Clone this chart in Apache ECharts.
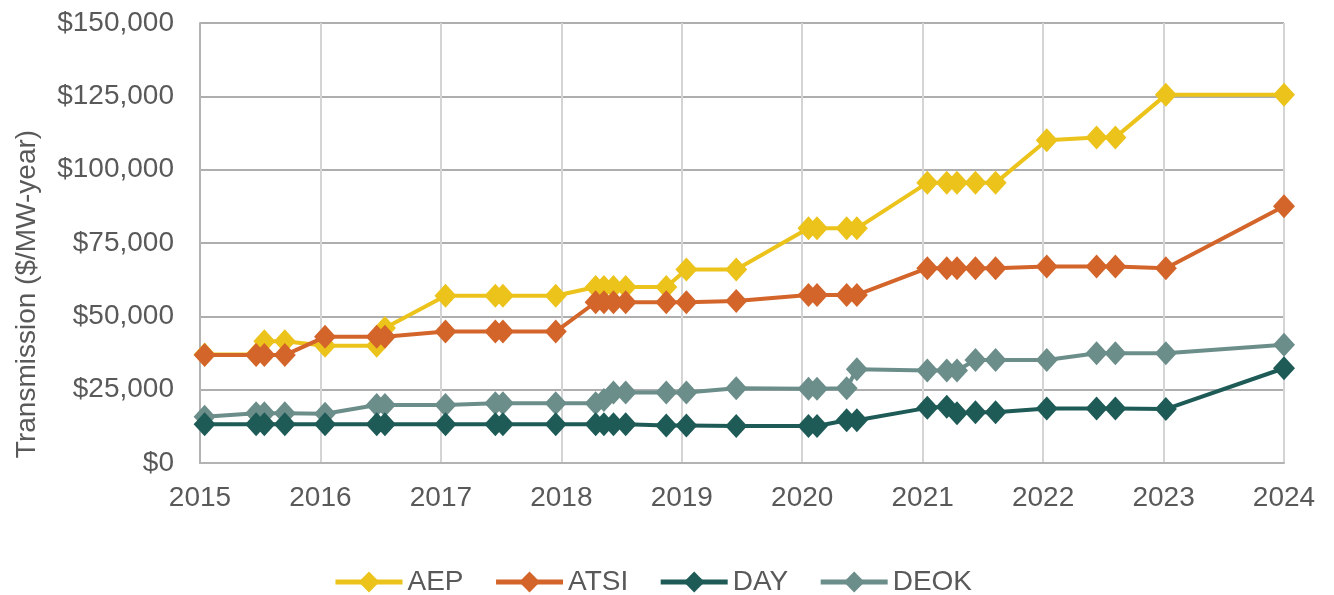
<!DOCTYPE html>
<html>
<head>
<meta charset="utf-8">
<script src="https://cdn.jsdelivr.net/npm/echarts@6/dist/echarts.min.js"></script>
<style>
  html, body { margin: 0; padding: 0; background: #fff; }
  #chart { width: 1334px; height: 595px; }
</style>
</head>
<body>
<div id="chart"></div>
<script>
// rate change dates (shared by all four zones)
const dates = [
  '2015-01-15', '2015-06-20', '2015-07-15', '2015-09-15',
  '2016-01-15', '2016-06-20', '2016-07-15',
  '2017-01-15', '2017-06-15', '2017-07-08', '2017-12-15',
  '2018-04-15', '2018-05-10', '2018-06-08', '2018-07-15', '2018-11-15',
  '2019-01-15', '2019-06-15',
  '2020-01-20', '2020-02-15', '2020-05-15', '2020-06-15',
  '2021-01-15', '2021-03-15', '2021-04-15', '2021-06-10', '2021-08-10',
  '2022-01-12', '2022-06-12', '2022-08-08',
  '2023-01-08', '2024-01-01'
]

// transmission $/MW-year
const aep = [37000, 37000, 41500, 41500, 40000, 40000, 46000, 57000, 57000, 57000, 57000, 60000, 60000, 60000, 60000, 60000, 66000, 66000, 80000, 80000, 80000, 80000, 95500, 95500, 95500, 95500, 95500, 110000, 111000, 111000, 125500, 125500]
const atsi = [36800, 36800, 36800, 36800, 43000, 43000, 43000, 44800, 44800, 44800, 44800, 54800, 54800, 54800, 54800, 54800, 54800, 55200, 57300, 57300, 57300, 57300, 66400, 66400, 66400, 66400, 66400, 67000, 67000, 67000, 66400, 87500]
const day = [13200, 13200, 13200, 13200, 13200, 13200, 13200, 13200, 13200, 13200, 13200, 13200, 13200, 13200, 13200, 12800, 12800, 12600, 12600, 12600, 14600, 14600, 18800, 19200, 17000, 17300, 17300, 18600, 18600, 18600, 18400, 32300]
const deok = [15800, 17000, 17000, 17000, 16800, 19800, 19800, 19800, 20400, 20400, 20400, 20400, 21500, 24000, 24000, 24000, 24000, 25500, 25300, 25300, 25500, 32000, 31500, 31500, 31500, 35100, 35100, 35100, 37400, 37400, 37400, 40300]

const seriesNames = ['AEP', 'ATSI', 'DAY', 'DEOK']
const seriesColors = ['#EBC31B', '#D4652A', '#1E5B57', '#6B8E8A']
const seriesValues = [aep, atsi, day, deok]

// date string -> fractional year
const toYear = (s) => {
  const [y, m, d] = s.split('-').map(Number)
  const start = Date.UTC(y, 0, 1)
  const end = Date.UTC(y + 1, 0, 1)
  return y + (Date.UTC(y, m - 1, d) - start) / (end - start)
}

const font = 'Liberation Sans'
const textColor = '#595959'

const chart = echarts.init(document.getElementById('chart'))
chart.setOption({
  animation: false,
  textStyle: { fontFamily: font },
  grid: { left: 200, right: 50, top: 23, bottom: 132, containLabel: false },
  legend: {
    data: seriesNames,
    left: 328,
    top: 563,
    itemWidth: 67,
    itemHeight: 26,
    itemGap: 30,
    lineStyle: { width: 5 },
    textStyle: { fontSize: 28, color: textColor, fontFamily: font }
  },
  graphic: [{
    type: 'text',
    x: 27,
    y: 294,
    rotation: Math.PI / 2,
    style: {
      text: 'Transmission ($/MW-year)',
      fill: textColor,
      font: '28px "Liberation Sans"',
      align: 'center',
      verticalAlign: 'middle'
    }
  }],
  xAxis: {
    type: 'value',
    min: 2015,
    max: 2024,
    interval: 1,
    axisLine: { show: true, lineStyle: { color: '#b3b3b3', width: 2 } },
    axisTick: { show: false },
    splitLine: { show: true, lineStyle: { color: '#d4d4d4', width: 2 } },
    axisLabel: {
      color: textColor,
      fontSize: 28,
      margin: 21,
      formatter: (v) => String(v)
    }
  },
  yAxis: {
    type: 'value',
    min: 0,
    max: 150000,
    interval: 25000,
    axisLine: { show: true, lineStyle: { color: '#b3b3b3', width: 2 } },
    axisTick: { show: false },
    splitLine: { lineStyle: { color: '#aeaeae', width: 2 } },
    axisLabel: {
      color: textColor,
      fontSize: 28,
      margin: 26,
      formatter: (v) => '$' + v.toLocaleString('en-US')
    }
  },
  series: seriesNames.map((name, i) => ({
    name,
    type: 'line',
    symbol: 'diamond',
    symbolSize: [22, 24],
    z: name === 'DEOK' ? 2 : (name === 'AEP' ? 2 : 3),
    itemStyle: { color: seriesColors[i] },
    lineStyle: { color: seriesColors[i], width: 4 },
    data: dates.map((d, j) => [toYear(d), seriesValues[i][j]])
  }))
})
</script>
</body>
</html>
